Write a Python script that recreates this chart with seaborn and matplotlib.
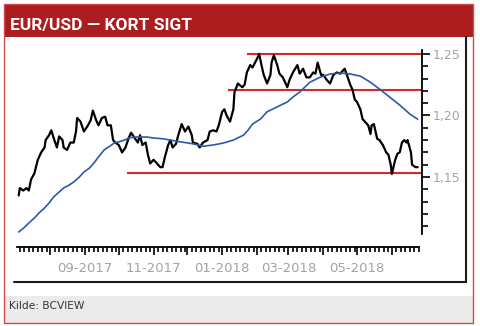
import matplotlib
matplotlib.use("Agg")
import matplotlib.pyplot as plt
import matplotlib.dates as mdates
import matplotlib.ticker as mticker
from matplotlib.patches import Rectangle
from matplotlib.lines import Line2D
import numpy as np
import pandas as pd
import seaborn as sns

# ---------------- data ----------------
price_dates = [
    "2017-07-04", "2017-07-05", "2017-07-08", "2017-07-11", "2017-07-13", "2017-07-15", "2017-07-18", "2017-07-21",
    "2017-07-24", "2017-07-27", "2017-07-28", "2017-07-31",
    "2017-08-02", "2017-08-04", "2017-08-07", "2017-08-09", "2017-08-12", "2017-08-13", "2017-08-16", "2017-08-19",
    "2017-08-22", "2017-08-24", "2017-08-25", "2017-08-28", "2017-08-31",
    "2017-09-03", "2017-09-06", "2017-09-08", "2017-09-11", "2017-09-13", "2017-09-16", "2017-09-19", "2017-09-21",
    "2017-09-24", "2017-09-26", "2017-09-28",
    "2017-10-01", "2017-10-04", "2017-10-07", "2017-10-10", "2017-10-12", "2017-10-15", "2017-10-18", "2017-10-20",
    "2017-10-22", "2017-10-25", "2017-10-27", "2017-10-29",
    "2017-11-01", "2017-11-04", "2017-11-07", "2017-11-09", "2017-11-11", "2017-11-14", "2017-11-16", "2017-11-18",
    "2017-11-21", "2017-11-23", "2017-11-26", "2017-11-29",
    "2017-12-02", "2017-12-05", "2017-12-06", "2017-12-10", "2017-12-12", "2017-12-15", "2017-12-19", "2017-12-21",
    "2017-12-24", "2017-12-27", "2017-12-29",
    "2018-01-01", "2018-01-03", "2018-01-05", "2018-01-08", "2018-01-11", "2018-01-12", "2018-01-15", "2018-01-19",
    "2018-01-21", "2018-01-23", "2018-01-26", "2018-01-28",
    "2018-02-01", "2018-02-03", "2018-02-05", "2018-02-07", "2018-02-10", "2018-02-13", "2018-02-14", "2018-02-16",
    "2018-02-19", "2018-02-21", "2018-02-24", "2018-02-28",
    "2018-03-02", "2018-03-05", "2018-03-09", "2018-03-11", "2018-03-14", "2018-03-17", "2018-03-20", "2018-03-23",
    "2018-03-25", "2018-03-27", "2018-03-30",
    "2018-04-01", "2018-04-04", "2018-04-07", "2018-04-10", "2018-04-13", "2018-04-16", "2018-04-19", "2018-04-20",
    "2018-04-22", "2018-04-25", "2018-04-27", "2018-04-29",
    "2018-05-01", "2018-05-04", "2018-05-06", "2018-05-08", "2018-05-11", "2018-05-13", "2018-05-14", "2018-05-16",
    "2018-05-19", "2018-05-21", "2018-05-24", "2018-05-27", "2018-05-29", "2018-05-31",
    "2018-06-01", "2018-06-04", "2018-06-06", "2018-06-08", "2018-06-10", "2018-06-12", "2018-06-14", "2018-06-15",
    "2018-06-18", "2018-06-19", "2018-06-22", "2018-06-24",
]
price_values = [
    1.135, 1.141, 1.139, 1.141, 1.139, 1.148, 1.153, 1.164, 1.170, 1.174, 1.180, 1.184,
    1.188, 1.182, 1.174, 1.183, 1.180, 1.174, 1.172, 1.178, 1.178, 1.187, 1.198, 1.195, 1.187,
    1.191, 1.196, 1.204, 1.196, 1.192, 1.198, 1.199, 1.192, 1.192, 1.180, 1.178,
    1.176, 1.170, 1.174, 1.182, 1.186, 1.182, 1.178, 1.184, 1.176, 1.178, 1.168, 1.161,
    1.164, 1.161, 1.158, 1.158, 1.166, 1.176, 1.180, 1.174, 1.177, 1.184, 1.193, 1.187,
    1.191, 1.184, 1.178, 1.177, 1.174, 1.178, 1.180, 1.187, 1.188, 1.187, 1.192,
    1.203, 1.205, 1.200, 1.195, 1.205, 1.219, 1.226, 1.223, 1.225, 1.235, 1.241, 1.239,
    1.246, 1.250, 1.241, 1.233, 1.226, 1.233, 1.243, 1.249, 1.241, 1.234, 1.231, 1.223,
    1.229, 1.235, 1.241, 1.234, 1.238, 1.231, 1.231, 1.235, 1.234, 1.243, 1.233,
    1.233, 1.229, 1.226, 1.233, 1.235, 1.234, 1.237, 1.238, 1.233, 1.225, 1.221, 1.213,
    1.211, 1.205, 1.197, 1.195, 1.192, 1.185, 1.192, 1.193, 1.181, 1.180, 1.176, 1.170, 1.168, 1.160,
    1.1525, 1.164, 1.169, 1.170, 1.178, 1.180, 1.178, 1.180, 1.170, 1.160, 1.158, 1.158,
]

ma_dates = [
    "2017-07-04", "2017-07-09", "2017-07-13", "2017-07-18", "2017-07-22", "2017-07-27", "2017-07-31", "2017-08-04",
    "2017-08-09", "2017-08-13", "2017-08-18", "2017-08-22", "2017-08-27", "2017-08-31", "2017-09-05", "2017-09-09",
    "2017-09-13", "2017-09-18", "2017-09-22", "2017-09-27", "2017-10-01", "2017-10-06", "2017-10-10", "2017-10-15",
    "2017-10-21", "2017-10-26", "2017-11-01", "2017-11-10", "2017-11-22", "2017-12-06", "2017-12-15", "2017-12-24",
    "2018-01-02", "2018-01-11", "2018-01-20", "2018-01-24", "2018-01-28", "2018-02-04", "2018-02-10", "2018-02-19",
    "2018-02-28", "2018-03-05", "2018-03-11", "2018-03-20", "2018-03-29", "2018-04-07", "2018-04-16", "2018-04-25",
    "2018-05-04", "2018-05-13", "2018-05-21", "2018-05-30", "2018-06-08", "2018-06-17", "2018-06-24",
]
ma_values = [
    1.1053, 1.109, 1.1126, 1.1167, 1.1207, 1.1248, 1.1289, 1.1337,
    1.1378, 1.1411, 1.1435, 1.146, 1.150, 1.154, 1.1573, 1.1614,
    1.1663, 1.172, 1.1744, 1.1776, 1.1785, 1.180, 1.1817, 1.1825,
    1.1825, 1.1825, 1.1817, 1.1810, 1.179, 1.177, 1.175, 1.176,
    1.1776, 1.180, 1.184, 1.188, 1.193, 1.197, 1.203, 1.207,
    1.211, 1.215, 1.219, 1.227, 1.231, 1.2337, 1.2345, 1.2337,
    1.232, 1.227, 1.2215, 1.215, 1.2085, 1.2012, 1.197,
]

level_values = [1.2503, 1.2205, 1.1533]
level_starts = ["2018-01-23", "2018-01-06", "2017-10-08"]

y_major_ticks = [1.15, 1.20, 1.25]
y_tick_labels = ["1,15", "1,20", "1,25"]

title_text = "EUR/USD \u2014 KORT SIGT"
source_text = "Kilde: BCVIEW"

# ---------------- figure ----------------
sns.set_style("white")
plt.rcParams["font.family"] = ["DejaVu Sans"]

W, H = 480, 326
fig = plt.figure(figsize=(W / 100, H / 100), dpi=100)
fig.patch.set_facecolor("white")


def fx(px):
    return px / W


def fy(py):
    return 1 - py / H


# title bar
fig.patches.append(Rectangle((fx(4), fy(37)), fx(473) - fx(4), fy(5) - fy(37),
                             transform=fig.transFigure, facecolor="#ad1d1f", edgecolor="none", zorder=0))
# footer
fig.patches.append(Rectangle((fx(4), fy(323)), fx(473) - fx(4), fy(296) - fy(323),
                             transform=fig.transFigure, facecolor="#ebebeb", edgecolor="none", zorder=0))
# outer border
fig.patches.append(Rectangle((fx(4), fy(323)), fx(473) - fx(4), fy(4) - fy(323),
                             transform=fig.transFigure, facecolor="none", edgecolor="#d24a4a", lw=1.0, zorder=1))
# dark frame lines of chart image
fig.lines.append(Line2D([fx(14), fx(466)], [fy(282), fy(282)], transform=fig.transFigure,
                        color="#1c1c1c", lw=1.5))
fig.lines.append(Line2D([fx(466), fx(466)], [fy(37), fy(282)], transform=fig.transFigure,
                        color="#1c1c1c", lw=1.5))

fig.text(fx(10), fy(30), title_text, ha="left", va="baseline", color="white",
         fontsize=12.5, fontweight="bold", family=["Roboto", "DejaVu Sans"])
fig.text(fx(9), fy(306), source_text, ha="left", va="center", color="#333333", fontsize=7.7)

# axes
ax = fig.add_axes([fx(17), fy(247), fx(422) - fx(17), fy(45) - fy(247)])
ax.set_facecolor("none")

x_left = pd.Timestamp("2017-07-02 12:00")
x_right = pd.Timestamp("2018-06-27 20:00")
x_axis_end = pd.Timestamp("2018-06-25")

price_df = pd.DataFrame({"date": pd.to_datetime(price_dates), "value": price_values})
ma_df = pd.DataFrame({"date": pd.to_datetime(ma_dates), "value": ma_values})

ax.hlines(level_values, xmin=mdates.date2num(pd.to_datetime(level_starts)),
          xmax=mdates.date2num(x_right), colors="#d9262b", lw=1.5, zorder=1)
sns.lineplot(data=price_df, x="date", y="value", ax=ax, color="black", lw=1.6, zorder=2)
sns.lineplot(data=ma_df, x="date", y="value", ax=ax, color="#2c5aa8", lw=1.2, zorder=3)

ax.set_xlim(x_left, x_right)
ax.set_ylim(1.0931, 1.2573)
ax.set_xlabel("")
ax.set_ylabel("")

for s in ["top", "left"]:
    ax.spines[s].set_visible(False)
ax.spines["right"].set_visible(True)
ax.spines["bottom"].set_visible(True)
for s in ["right", "bottom"]:
    ax.spines[s].set_color("black")
    ax.spines[s].set_linewidth(1.3)
ax.spines["right"].set_bounds(1.104, 1.2535)
ax.spines["bottom"].set_bounds(mdates.date2num(x_left), mdates.date2num(x_axis_end))

# y axis on the right
ax.yaxis.tick_right()
ax.set_yticks(y_major_ticks)
ax.set_yticklabels(y_tick_labels)
ax.yaxis.set_minor_locator(mticker.FixedLocator([1.11, 1.12, 1.13, 1.14, 1.16, 1.17, 1.18, 1.19,
                                                 1.21, 1.22, 1.23, 1.24]))
ax.tick_params(axis="y", which="both", direction="out", color="black", width=1.2,
               labelcolor="#a3a3a3", labelsize=9, right=True, left=False, pad=2)
ax.tick_params(axis="y", which="major", length=6)
ax.tick_params(axis="y", which="minor", length=4)

# x axis
ax.xaxis.set_major_locator(mdates.MonthLocator())
ax.xaxis.set_minor_locator(mdates.DayLocator(bymonthday=[5, 9, 13, 17, 21, 25, 29]))


def month_fmt(x, pos=None):
    d = mdates.num2date(x)
    return d.strftime("%m-%Y") if d.month % 2 == 1 else ""


ax.xaxis.set_major_formatter(mticker.FuncFormatter(month_fmt))
ax.tick_params(axis="x", which="both", direction="out", color="black", width=1.2,
               labelcolor="#a3a3a3", labelsize=9.5, bottom=True, top=False, pad=5)
ax.tick_params(axis="x", which="major", length=6)
ax.tick_params(axis="x", which="minor", length=3.5)

fig.savefig("out.png", dpi=100)
